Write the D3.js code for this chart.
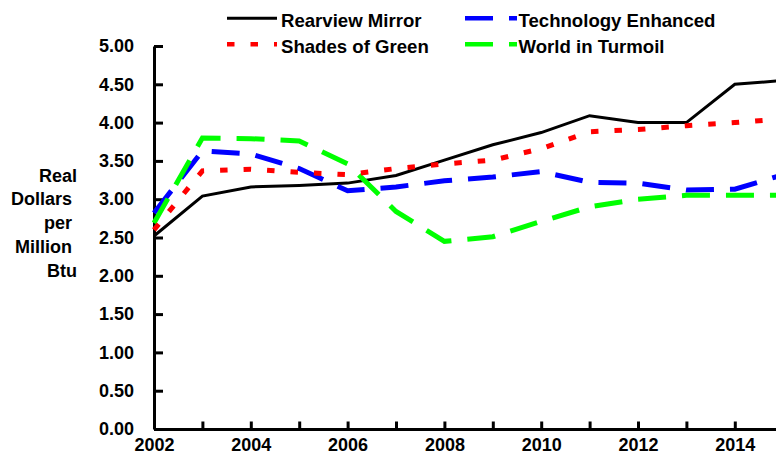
<!DOCTYPE html>
<html>
<head>
<meta charset="utf-8">
<script src="https://cdn.jsdelivr.net/npm/d3@7"></script>
<style>
  body { margin: 0; background: #fff; }
  svg { display: block; font-family: "Liberation Sans", Arial, sans-serif; font-weight: bold; }
</style>
</head>
<body>
<script>
// years on the x axis
var years = [2002, 2003, 2004, 2005, 2006, 2007, 2008, 2009, 2010, 2011, 2012, 2013, 2014, 2015];

// real dollars per million Btu
var rearview = [2.52, 3.04, 3.16, 3.18, 3.21, 3.31, 3.51, 3.71, 3.87, 4.09, 4.00, 4.00, 4.50, 4.55];
var shadesGreen = [2.60, 3.37, 3.39, 3.35, 3.32, 3.40, 3.46, 3.51, 3.66, 3.88, 3.91, 3.96, 4.00, 4.05];
var techEnhanced = [2.82, 3.63, 3.59, 3.40, 3.11, 3.16, 3.24, 3.29, 3.36, 3.22, 3.21, 3.12, 3.13, 3.32];
var worldTurmoil = [2.69, 3.80, 3.79, 3.76, 3.46, 2.84, 2.45, 2.51, 2.71, 2.90, 3.00, 3.05, 3.05, 3.05];

var yTicks = [0, 0.5, 1, 1.5, 2, 2.5, 3, 3.5, 4, 4.5, 5];
var yTitle = ['Real', 'Dollars ', 'per ', 'Million ', 'Btu'];

var series = [
  {name: 'Rearview Mirror', values: rearview, color: '#000000', width: 3, dash: null, col: 0, row: 0},
  {name: 'Technology Enhanced', values: techEnhanced, color: '#0000ff', width: 5, dash: '28,16', col: 1, row: 0},
  {name: 'World in Turmoil', values: worldTurmoil, color: '#00ff00', width: 5, dash: '28,16', col: 1, row: 1},
  {name: 'Shades of Green', values: shadesGreen, color: '#ff0000', width: 5, dash: '7.5,16', col: 0, row: 1}
];

var width = 776, height = 456;

var svg = d3.select('body').append('svg')
.attr('width', width)
.attr('height', height);

svg.append('rect')
.attr('width', width)
.attr('height', height)
.attr('fill', 'white');

var x = d3.scaleLinear().domain([2002, 2015]).range([154, 783.2]);
var y = d3.scaleLinear().domain([0, 5]).range([429, 46]);

// y axis, ticks point into the plot
var yAxis = svg.append('g')
.attr('transform', 'translate(' + x(2002) + ',0)')
.call(d3.axisLeft(y)
.tickValues(yTicks)
.tickSizeInner(-9)
.tickSizeOuter(0)
.tickPadding(20)
.tickFormat(d3.format('.2f')));

// x axis, one tick a year, labels every other year
var xAxis = svg.append('g')
.attr('transform', 'translate(0,' + y(0) + ')')
.call(d3.axisBottom(x)
.tickValues(years)
.tickSizeInner(-7.5)
.tickSizeOuter(0)
.tickPadding(9)
.tickFormat(function(d) { return d % 2 === 0 ? d : ''; }));

[yAxis, xAxis].forEach(function(ax) {
  ax.select('.domain').attr('stroke', '#000').attr('stroke-width', 3);
  ax.selectAll('.tick line').attr('stroke', '#000').attr('stroke-width', 3);
  ax.selectAll('.tick text')
  .attr('fill', '#000')
  .attr('font-size', 18)
  .attr('font-family', '"Liberation Sans", Arial, sans-serif')
  .attr('font-weight', 'bold');
});

// y axis title
svg.append('g').selectAll('text')
.data(yTitle)
.enter().append('text')
.attr('x', 77)
.attr('y', function(d, i) { return 181.5 + i * 23.8; })
.attr('text-anchor', 'end')
.attr('font-size', 18)
.attr('xml:space', 'preserve')
.style('white-space', 'pre')
.text(function(d) { return d; });

// lines
var line = d3.line()
.x(function(d, i) { return x(years[i]); })
.y(function(d) { return y(d); });

svg.append('g').selectAll('path')
.data(series)
.enter().append('path')
.attr('d', function(d) { return line(d.values); })
.attr('fill', 'none')
.attr('stroke', function(d) { return d.color; })
.attr('stroke-width', function(d) { return d.width; })
.attr('stroke-dasharray', function(d) { return d.dash; })
.attr('stroke-linejoin', 'miter');

// legend
var legendX = [227, 465];
var legendY = [18.3, 44.3];

var legend = svg.append('g').selectAll('g')
.data(series)
.enter().append('g')
.attr('transform', function(d) { return 'translate(' + legendX[d.col] + ',' + legendY[d.row] + ')'; });

legend.append('line')
.attr('x1', 0)
.attr('x2', function(d) { return d.col === 0 ? 50 : 52; })
.attr('stroke', function(d) { return d.color; })
.attr('stroke-width', function(d) { return d.width === 3 ? 3 : 4.5; })
.attr('stroke-dasharray', function(d) { return d.dash; });

legend.append('text')
.attr('x', function(d) { return d.col === 0 ? 54 : 53.5; })
.attr('y', 9)
.attr('font-size', 18.6)
.text(function(d) { return d.name; });
</script>
</body>
</html>
